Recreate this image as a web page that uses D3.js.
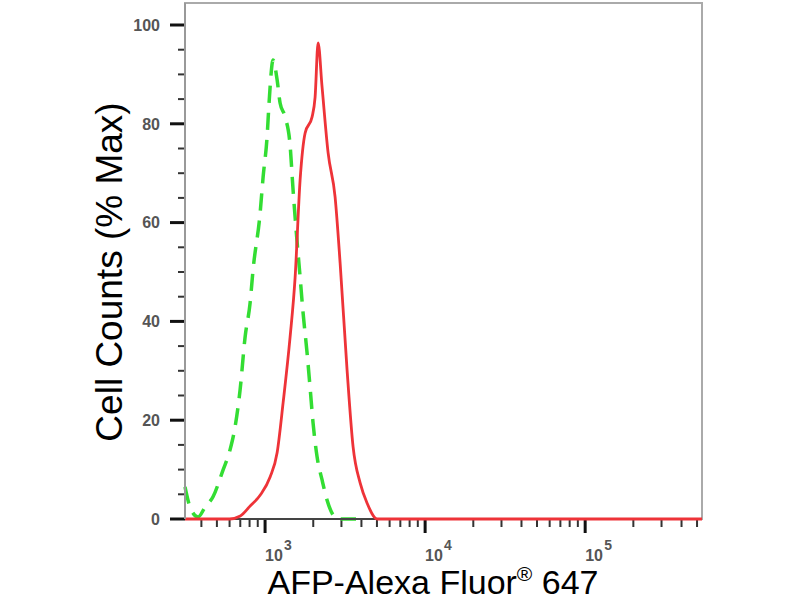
<!DOCTYPE html>
<html>
<head>
<meta charset="utf-8">
<script src="https://cdn.jsdelivr.net/npm/d3@7"></script>
<style>
  body { margin: 0; background: #fff; }
  text { font-family: Arial, "Liberation Sans", sans-serif; }
</style>
</head>
<body>
<div id="chart"></div>
<script>
// đường đỏ (AFP) - cường độ huỳnh quang và % max
const redIntensity = [316, 600, 700, 800, 931, 1075, 1189, 1296, 1433, 1540, 1655, 1778, 1967, 2054, 2144, 2271, 2477, 2738, 2944, 3253, 3548, 3926, 4341, 5012, 537000];
const redPercent   = [0, 0, 0.6, 2.5, 4.8, 8.5, 13.4, 23.5, 36.8, 48.8, 68.6, 78.1, 81.4, 85.4, 96.4, 87.4, 74.1, 65.2, 51.8, 30.2, 14.6, 7.3, 3.2, 0, 0];

// đường xanh (isotype control)
const greenIntensity = [316, 340, 381, 422, 473, 546, 604, 649, 698, 750, 806, 841, 931, 972, 1029, 1059, 1122, 1189, 1241, 1334, 1433, 1496, 1563, 1655, 1728, 1830, 1910, 1995, 2113, 2271, 2441, 2661, 2858, 3700];
const greenPercent   = [6.5, 2.4, 0.4, 2.4, 4.5, 9.9, 14.0, 18.6, 26.1, 36.8, 43.7, 50.4, 61.9, 69.2, 77.3, 84.2, 92.9, 88.9, 84.2, 81.4, 75.7, 66.6, 58.5, 49.0, 41.7, 33.6, 26.7, 19.4, 12.6, 7.9, 3.8, 0.8, 0, 0];

const yTicks = [0, 20, 40, 60, 80, 100];
const xExponents = [3, 4, 5];
const xDomain = [316, 537000];
const yDomain = [0, 100];

const margin = { top: 3, right: 98, bottom: 81, left: 185 },
      width  = 800 - margin.left - margin.right,
      height = 600 - margin.top - margin.bottom;

const svg = d3.select("#chart").append("svg")
              .attr("width", 800)
              .attr("height", 600)
              .append("g")
              .attr("transform", `translate(${margin.left},${margin.top})`);

const x = d3.scaleLog().domain(xDomain).range([0, width]);
const y = d3.scaleLinear().domain(yDomain).range([height, height - 494]);

// khung
svg.append("rect")
   .attr("x", 0).attr("y", 0)
   .attr("width", width).attr("height", height)
   .attr("fill", "none")
   .attr("stroke", "#aaa")
   .attr("stroke-width", 2);

// vạch chia trục Y (nhỏ và lớn)
const yMinor = d3.range(0, 101, 5).filter(d => d % 20 !== 0);
svg.selectAll(".y-minor")
   .data(yMinor)
   .enter().append("line")
   .attr("x1", -7).attr("x2", 0)
   .attr("y1", d => y(d)).attr("y2", d => y(d))
   .attr("stroke", "#333").attr("stroke-width", 2);

svg.selectAll(".y-major")
   .data(yTicks)
   .enter().append("line")
   .attr("x1", -15).attr("x2", 0)
   .attr("y1", d => y(d)).attr("y2", d => y(d))
   .attr("stroke", "#111").attr("stroke-width", 3);

svg.selectAll(".y-label")
   .data(yTicks)
   .enter().append("text")
   .attr("x", -25)
   .attr("y", d => y(d))
   .attr("dy", "0.36em")
   .attr("text-anchor", "end")
   .style("font-size", "16px")
   .style("font-weight", "bold")
   .style("fill", "#555")
   .text(d => d);

// vạch chia trục X (log)
const xAll = x.ticks();
const xMajor = xExponents.map(e => Math.pow(10, e));
const xMinor = xAll.filter(v => !xMajor.some(m => Math.abs(m - v) < 1e-6));

svg.selectAll(".x-minor")
   .data(xMinor)
   .enter().append("line")
   .attr("x1", d => x(d)).attr("x2", d => x(d))
   .attr("y1", height).attr("y2", height + 8)
   .attr("stroke", "#333").attr("stroke-width", 2);

svg.selectAll(".x-major")
   .data(xMajor)
   .enter().append("line")
   .attr("x1", d => x(d)).attr("x2", d => x(d))
   .attr("y1", height).attr("y2", height + 14)
   .attr("stroke", "#111").attr("stroke-width", 3);

// nhãn 10^n
svg.selectAll(".x-label")
   .data(xExponents)
   .enter().append("text")
   .attr("class", "x-label")
   .attr("x", d => x(Math.pow(10, d)))
   .attr("y", height + 42)
   .style("font-size", "16px")
   .style("font-weight", "bold")
   .style("fill", "#555")
   .text("10");

svg.selectAll(".x-exp")
   .data(xExponents)
   .enter().append("text")
   .attr("class", "x-exp")
   .attr("x", d => x(Math.pow(10, d)) + 19)
   .attr("y", height + 31)
   .style("font-size", "14px")
   .style("font-weight", "bold")
   .style("fill", "#555")
   .text(d => d);

// đường cong
const line = d3.line()
   .x(d => x(d[0]))
   .y(d => y(d[1]))
   .curve(d3.curveMonotoneX);

const greenData = greenIntensity.map((v, i) => [v, greenPercent[i]]);
const redData = redIntensity.map((v, i) => [v, redPercent[i]]);

svg.append("path")
   .datum(greenData)
   .attr("d", line)
   .attr("fill", "none")
   .attr("stroke", "#33dd33")
   .attr("stroke-width", 3.5)
   .attr("stroke-dasharray", "17,10");

// trục đáy
svg.append("line")
   .attr("x1", 0).attr("x2", width)
   .attr("y1", height).attr("y2", height)
   .attr("stroke", "#444").attr("stroke-width", 2);

svg.append("path")
   .datum(redData)
   .attr("d", line)
   .attr("fill", "none")
   .attr("stroke", "#ee3338")
   .attr("stroke-width", 2.8);

// trục trái
svg.append("line")
   .attr("x1", 0).attr("x2", 0)
   .attr("y1", 0).attr("y2", height)
   .attr("stroke", "#999").attr("stroke-width", 2);

// tiêu đề trục
svg.append("text")
   .attr("transform", `translate(-63, ${272 - margin.top}) rotate(-90)`)
   .attr("text-anchor", "middle")
   .style("font-size", "37px")
   .style("fill", "#000")
   .text("Cell Counts (% Max)");

const xTitle = svg.append("text")
   .attr("x", 433 - margin.left)
   .attr("y", 594 - margin.top)
   .attr("text-anchor", "middle")
   .style("font-size", "34px")
   .style("fill", "#000");
xTitle.append("tspan").text("AFP-Alexa Fluor");
xTitle.append("tspan")
   .attr("dy", "-13")
   .style("font-size", "21px")
   .text("®");
xTitle.append("tspan")
   .attr("dy", "13")
   .text(" 647");
</script>
</body>
</html>
